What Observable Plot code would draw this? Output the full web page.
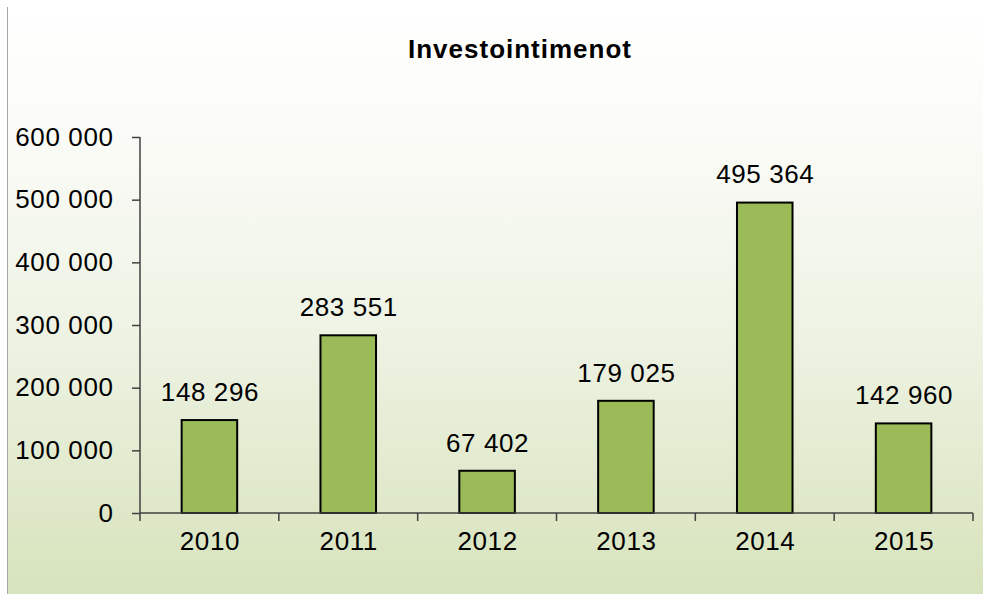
<!DOCTYPE html>
<html>
<head>
<meta charset="utf-8">
<script src="https://cdn.jsdelivr.net/npm/d3@7"></script>
<script src="https://cdn.jsdelivr.net/npm/@observablehq/plot@0.6"></script>
<style>
  html, body { margin: 0; padding: 0; background: #ffffff; }
  #chart { position: relative; width: 983px; height: 594px; overflow: hidden; font-family: "Liberation Sans", Arial, sans-serif; }
  #bg { position: absolute; left: 7px; top: 7px; width: 976px; height: 587px; border-left: 1px solid #a6a6a6;
        background: linear-gradient(to bottom, #ffffff 0%, #fbfcf8 20%, #eef3e4 55%, #d7e3bc 100%); }
  #title { position: absolute; left: 520px; top: 36px; transform: translateX(-50%); font-size: 26px; line-height: 26px;
           font-weight: bold; letter-spacing: 1px; color: #000; white-space: nowrap; }
  #plot { position: absolute; left: 0; top: 0; }
  #plot svg text { letter-spacing: 0.6px; }
</style>
</head>
<body>
<div id="chart">
  <div id="bg"></div>
  <div id="plot"></div>
  <div id="title">Investointimenot</div>
</div>
<script>
const years = ["2010", "2011", "2012", "2013", "2014", "2015"];
const values = [148296, 283551, 67402, 179025, 495364, 142960];
const yTicks = [0, 100000, 200000, 300000, 400000, 500000, 600000];

const fmt = d3.formatLocale({decimal: ",", thousands: " ", grouping: [3], currency: ["", " €"]}).format(",d");
const data = years.map((year, i) => ({year, value: values[i]}));

const axisLines = (index, scales, values, dims) => {
  const {width, height, marginLeft, marginRight, marginTop, marginBottom} = dims;
  const x0 = marginLeft, x1 = width - marginRight, yb = height - marginBottom;
  const g = d3.create("svg:g").attr("stroke", "#404040").attr("stroke-width", 1.5).attr("fill", "none");
  g.append("line").attr("x1", x0).attr("x2", x0).attr("y1", marginTop).attr("y2", yb);
  g.append("line").attr("x1", x0).attr("x2", x1).attr("y1", yb).attr("y2", yb);
  const step = (x1 - x0) / years.length;
  for (let i = 0; i <= years.length; i++) {
    g.append("line").attr("x1", x0 + i * step).attr("x2", x0 + i * step).attr("y1", yb).attr("y2", yb + 8);
  }
  return g.node();
};

const chart = Plot.plot({
  width: 983,
  height: 594,
  marginLeft: 140,
  marginRight: 10,
  marginTop: 137,
  marginBottom: 81,
  style: {background: "transparent", fontFamily: "'Liberation Sans', Arial, sans-serif", fontSize: "26px", color: "#000", overflow: "visible"},
  x: {domain: years, paddingInner: 0.6, paddingOuter: 0.3, round: false, label: null},
  y: {domain: [0, 600000], label: null},
  marks: [
    Plot.barY(data, {x: "year", y: "value", fill: "#9bbb59", stroke: "#000", strokeWidth: 2}),
    Plot.text(data, {x: "year", y: "value", text: d => fmt(d.value), dy: -28, fontSize: 26, fill: "#000"}),
    Plot.axisY({ticks: yTicks, tickFormat: fmt, tickSize: 8, tickPadding: 19, stroke: "#404040", strokeWidth: 1.5, fontSize: 26, fill: "#000", label: null}),
    Plot.axisX({tickSize: 0, tickPadding: 18, fontSize: 26, fill: "#000", label: null}),
    axisLines
  ]
});
document.getElementById("plot").appendChild(chart);
</script>
</body>
</html>
